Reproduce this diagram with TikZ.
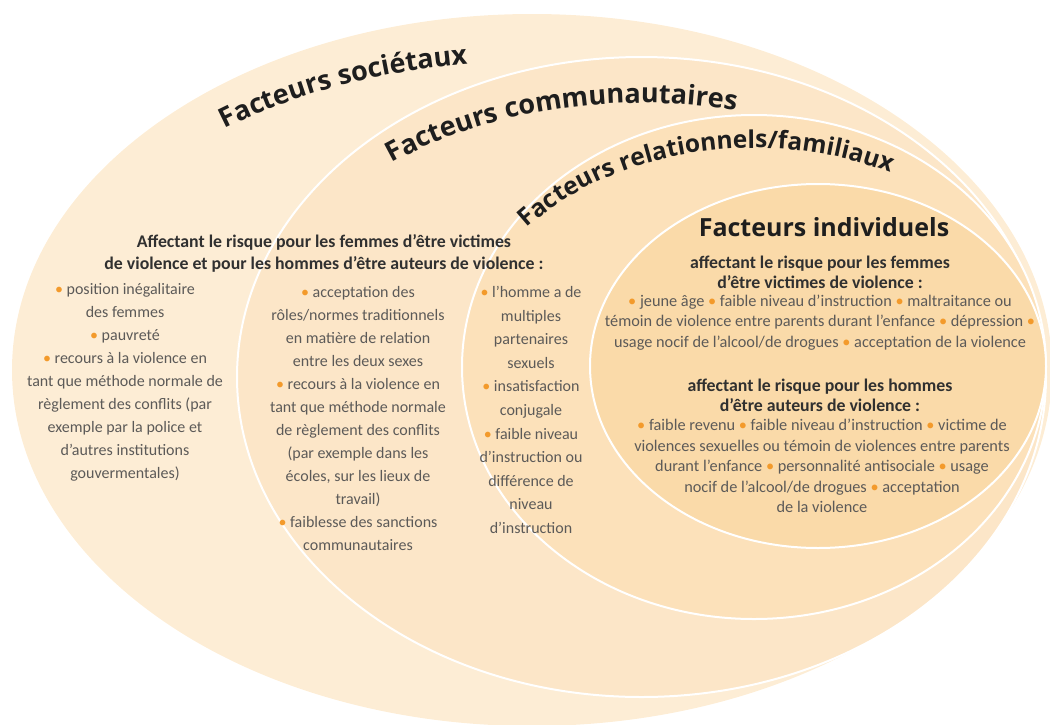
\documentclass[tikz,border=0pt]{standalone}
\usepackage{fontspec}
\setmainfont{Carlito}
\newfontfamily\headfont{Open Sans}
\usetikzlibrary{decorations.text}

\definecolor{ringA}{HTML}{FDEDD5}
\definecolor{ringB}{HTML}{FCE6C8}
\definecolor{ringC}{HTML}{FCE1BA}
\definecolor{ringD}{HTML}{FADAA9}
\definecolor{ink}{HTML}{1E1E1E}
\definecolor{subink}{HTML}{303030}
\definecolor{bodyink}{HTML}{5C5A58}
\definecolor{dot}{HTML}{F39A2B}

\newcommand{\bul}{\textcolor{dot}{\textbullet}}

\tikzset{
  ring/.style={draw=white, line width=2pt},
  body/.style={font=\fontsize{16}{23}\selectfont, text=bodyink, align=center, inner sep=0pt},
  ibody/.style={font=\fontsize{16.3}{20.5}\selectfont, text=bodyink, align=center, inner sep=0pt},
  subhead/.style={font=\bfseries\fontsize{17.8}{22}\selectfont, text=subink, align=center, inner sep=0pt},
  isubhead/.style={font=\bfseries\fontsize{17.8}{20}\selectfont, text=subink, align=center, inner sep=0pt},
  title/.style={font=\headfont\bfseries\fontsize{25}{25}\selectfont, text=ink, inner sep=0pt},
}

\begin{document}
\begin{tikzpicture}[x=1pt, y=-1pt]
\useasboundingbox (0,0) rectangle (1050,724);
\clip (0,0) rectangle (1050,724);

% nested rings, outermost first
\fill[ringA] (532,370) ellipse [x radius=520, y radius=356];
\filldraw[ring, fill=ringB] (641.5,377) ellipse [x radius=404.5, y radius=320];
\filldraw[ring, fill=ringC] (754,367) ellipse [x radius=292, y radius=252];
\filldraw[ring, fill=ringD] (818,366) ellipse [x radius=228, y radius=182];

% curved ring titles
\path[decorate, decoration={text along path, text color=ink,
    text={|\headfont\bfseries\fontsize{27}{27}\selectfont|Facteurs sociétaux}}]
  (225,129) arc [start angle=231.4, end angle=330, x radius=490, y radius=310];
\path[decorate, decoration={text along path, text color=ink,
    text={|\headfont\bfseries\fontsize{27}{27}\selectfont|Facteurs communautaires}}]
  (392,163) arc [start angle=231.3, end angle=340, x radius=398, y radius=274];
\path[decorate, decoration={text along path, text color=ink,
    text={|\headfont\bfseries\fontsize{24.5}{24.5}\selectfont|Facteurs relationnels/familiaux}}]
  (527,228) arc [start angle=219.4, end angle=345, x radius=294, y radius=219];

% shared heading for the three outer rings
\node[subhead] (shared) at (324,253)
  {Affectant le risque pour les femmes d’être victimes\\
   de violence et pour les hommes d’être auteurs de violence :};

% societal factors
\node[body] (societal) at (125,382)
  {\bul\ position inégalitaire\\
   des femmes\\
   \bul\ pauvreté\\
   \bul\ recours à la violence en\\
   tant que méthode normale de\\
   règlement des conflits (par\\
   exemple par la police et\\
   d’autres institutions\\
   gouvermentales)};

% community factors
\node[body] (community) at (358,418)
  {\bul\ acceptation des\\
   rôles/normes traditionnels\\
   en matière de relation\\
   entre les deux sexes\\
   \bul\ recours à la violence en\\
   tant que méthode normale\\
   de règlement des conflits\\
   (par exemple dans les\\
   écoles, sur les lieux de\\
   travail)\\
   \bul\ faiblesse des sanctions\\
   communautaires};

% relationship factors
\node[body, font=\fontsize{16}{23.6}\selectfont] (relation) at (531,410)
  {\bul\ l’homme a de\\
   multiples\\
   partenaires\\
   sexuels\\
   \bul\ insatisfaction\\
   conjugale\\
   \bul\ faible niveau\\
   d’instruction ou\\
   différence de\\
   niveau\\
   d’instruction};

% individual factors
\node[title] (indiv) at (824,227) {Facteurs individuels};
\node[isubhead] (womenhead) at (820,272.5)
  {affectant le risque pour les femmes\\
   d’être victimes de violence :};
\node[ibody] (women) at (820,322.5)
  {\bul\ jeune âge \bul\ faible niveau d’instruction \bul\ maltraitance ou\\
   témoin de violence entre parents durant l’enfance \bul\ dépression \bul\\
   usage nocif de l'alcool/de drogues \bul\ acceptation de la violence};
\node[isubhead] (menhead) at (820,395)
  {affectant le risque pour les hommes\\
   d’être auteurs de violence :};
\node[ibody] (men) at (822,466)
  {\bul\ faible revenu \bul\ faible niveau d’instruction \bul\ victime de\\
   violences sexuelles ou témoin de violences entre parents\\
   durant l'enfance \bul\ personnalité antisociale \bul\ usage\\
   nocif de l'alcool/de drogues \bul\ acceptation\\
   de la violence};
\end{tikzpicture}
\end{document}
